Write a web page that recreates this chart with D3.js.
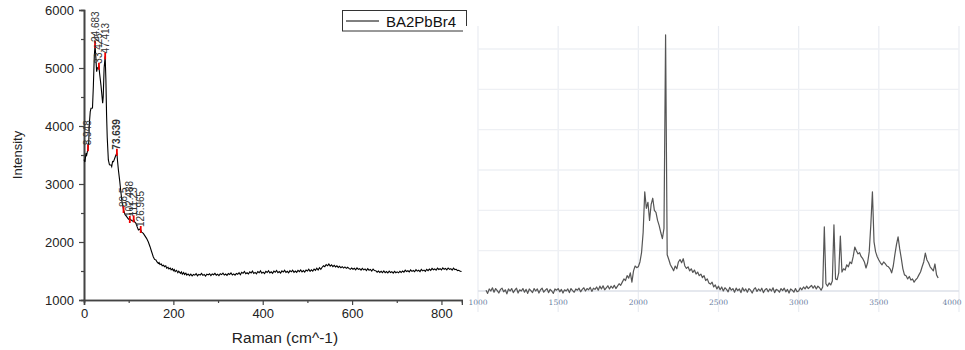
<!DOCTYPE html>
<html><head><meta charset="utf-8">
<script src="https://cdn.jsdelivr.net/npm/d3@7/dist/d3.min.js"></script>
<style>body{margin:0;background:#fff}svg{display:block}</style>
</head><body>
<svg id="c" width="965" height="350"></svg>
<script>
// ---------- Left chart data (Raman) ----------
const ramanHead = [[0,3420],[2,3380],[4.5,3530],[6,3500],[9,3615],[10.5,3700],[12,4046],[14,4250],[15.7,4305],[19,4310],[21,4700],[23,5200],[24.7,5397],[26,5250],[28.3,4937],[30,5000],[33.4,5023],[35,4900],[38,4700],[41.8,4391],[43,4500],[45,5000],[47.4,5200],[49,4800],[50.5,4200],[52,3800],[54.5,3414],[57,3330],[60.5,3327],[62,3300],[64,3390],[66,3385],[70,3470],[73.6,3540],[75,3400],[77,3241],[80,3050],[82,2897],[85,2700],[88.5,2552],[92,2470],[95.5,2437],[99,2400],[102.5,2379],[104,2390],[106.8,2368],[109,2360],[111.2,2390],[113,2350],[116.4,2322],[119,2260],[121.7,2207],[124,2220],[127,2207],[129,2170],[132.8,2149],[136,2110],[140,2063],[144,2000],[147.8,1919],[151,1840],[155,1747],[158,1700],[161,1690],[163,1661],[166.4,1632],[168,1645],[170,1610],[173,1620],[175,1590],[178,1600],[180,1575],[183,1590],[185,1550],[188,1565],[190,1535],[193,1550],[195,1520],[198,1540],[200,1505],[202,1525],[204,1490],[207,1512],[210,1470],[212,1495],[216,1460],[218,1485],[220,1445],[223,1475],[225,1440],[228,1462],[230,1430]];
const ramanTailStart = 233, ramanTailStep = 3;
const ramanTail = [
1448,1420,1445,1415,1440,1428,1455,1418,1442,1430,1458,1425,1440,1412,1446,1432,1452,1420,1448,1436,
1460,1428,1445,1420,1452,1438,1462,1430,1448,1425,1455,1440,1466,1432,1450,1428,1458,1444,1470,1436,
1478,1460,1492,1452,1470,1448,1484,1466,1498,1458,1476,1452,1490,1470,1502,1462,1480,1456,1494,1474,
1505,1466,1486,1460,1498,1478,1510,1470,1490,1464,1502,1482,1512,1474,1494,1468,1506,1486,1515,1478,
1500,1476,1510,1490,1520,1484,1506,1480,1516,1500,1532,1494,1520,1498,1534,1512,1548,1516,1556,1528,
1565,1590,1575,1612,1590,1620,1585,1605,1575,1598,1570,1590,1562,1582,1556,1575,1550,1570,1546,1565,
1545,1528,1552,1530,1548,1520,1554,1528,1540,1514,1546,1520,1535,1508,1540,1514,1528,1500,1534,1508,
1505,1480,1500,1476,1494,1470,1500,1472,1490,1466,1498,1474,1488,1464,1494,1470,1486,1468,1496,1474,
1500,1480,1514,1490,1504,1484,1518,1494,1508,1488,1522,1498,1512,1490,1526,1502,1516,1494,1530,1506,
1534,1510,1546,1522,1536,1514,1550,1526,1540,1518,1554,1530,1544,1520,1552,1528,1540,1516,1548,1524,
1530,1506,1512,1494,1490];
const peakX = [8.948,24.683,33.425,47.413,73.639,88.5,102.488,111.23,126.965];
const peakY = [3615,5397,5023,5200,3540,2552,2379,2390,2207];
const leftXTicks = [0,200,400,600,800];
const leftYTicks = [1000,2000,3000,4000,5000,6000];
const seriesName = "BA2PbBr4";

// ---------- Right chart data (spectrum) ----------
const specStart = 1050, specStep = 10;
const specValues = [
0.02,-0.06,0.05,0.0,0.08,-0.03,0.06,0.01,-0.05,0.04,0.07,-0.02,0.03,-0.07,0.05,0.0,0.06,-0.04,0.02,0.07,-0.05,0.03,0.0,0.06,-0.03,
0.04,-0.06,0.05,0.01,-0.04,0.06,0.0,0.05,-0.05,0.03,0.07,-0.03,0.02,0.06,-0.04,0.04,0.0,-0.06,0.05,0.02,0.06,-0.02,0.04,-0.05,0.03,
0.0,0.05,-0.04,0.06,0.01,-0.03,0.05,0.02,0.07,-0.02,0.04,0.08,0.0,0.06,0.03,0.09,-0.01,0.07,0.04,0.1,0.02,0.12,0.05,0.13,0.03,
0.08,0.13,0.05,0.12,0.07,0.14,0.06,0.12,0.18,0.14,0.22,0.3,0.26,0.38,0.32,0.45,0.22,0.5,0.62,0.58,
0.6,0.72,0.95,1.45,2.46,2.05,2.2,1.75,2.15,2.3,2.0,1.95,1.75,1.62,1.45,1.3,1.55,6.35,0.9,0.78,
0.65,0.58,0.5,0.62,0.55,0.72,0.78,0.7,0.8,0.62,0.56,0.6,0.5,0.55,0.46,0.52,0.42,0.47,0.38,0.42,
0.33,0.38,0.26,0.3,0.2,0.17,0.22,0.1,0.15,0.05,0.12,0.03,0.1,0.0,0.08,0.04,-0.02,0.09,0.02,0.06,
-0.03,0.07,0.01,0.05,-0.04,0.08,0.0,0.05,-0.03,0.06,0.02,-0.05,0.04,0.08,-0.01,0.05,0.0,0.07,-0.04,0.03,
0.06,-0.02,0.05,0.0,0.08,-0.04,0.04,0.02,-0.03,0.06,0.01,0.07,-0.02,0.04,-0.05,0.05,0.02,-0.03,0.06,-0.02,
0.0,0.08,0.03,0.1,0.05,0.12,0.06,0.1,0.14,0.07,0.13,0.05,0.12,0.08,0.02,0.1,1.59,0.18,0.12,0.2,
0.15,0.25,1.64,0.3,0.28,0.45,1.36,0.47,0.55,0.52,0.65,0.6,0.72,0.68,0.85,1.09,1.0,0.92,0.95,0.85,
0.8,0.72,0.57,0.7,0.97,1.64,2.46,1.22,0.97,0.85,0.77,0.7,0.65,0.72,0.68,0.62,0.6,0.55,0.45,0.62,
0.9,1.15,1.34,1.05,0.81,0.55,0.4,0.38,0.3,0.36,0.27,0.3,0.22,0.28,0.32,0.4,0.47,0.6,0.72,0.94,
0.77,0.7,0.6,0.55,0.5,0.67,0.4,0.32];
const rightXTicks = [1000,1500,2000,2500,3000,3500,4000];
const rightYGrid = [1,2,3,4,5,6];

// ---------- Build ----------
const svg = d3.select("#c");
const FONT = "Liberation Sans, Arial, sans-serif";

const raman = ramanHead.concat(ramanTail.map((v,i)=>[ramanTailStart + i*ramanTailStep, v]));
const xL = d3.scaleLinear().domain([0,846]).range([84,462]);
const yL = d3.scaleLinear().domain([1000,6000]).range([300,10]);

const gL = svg.append("g");
const xAxis = d3.axisBottom(xL).tickValues(leftXTicks).tickSize(5).tickPadding(4).tickFormat(d3.format("d"));
const xMinor = d3.axisBottom(xL).tickValues(leftXTicks.map(d=>d+100).filter(d=>d<846)).tickSize(3).tickFormat("");
const yAxis = d3.axisLeft(yL).tickValues(leftYTicks).tickSize(5).tickPadding(5).tickFormat(d3.format("d"));
const yMinor = d3.axisLeft(yL).tickValues(leftYTicks.slice(0,-1).map(d=>d+500)).tickSize(3).tickFormat("");
function styleAxis(g){
  g.select(".domain").attr("stroke","#444").attr("stroke-width",1.6);
  g.selectAll(".tick line").attr("stroke","#444").attr("stroke-width",1.2);
  g.selectAll(".tick text").attr("fill","#222").style("font-family",FONT).style("font-size","13px");
}
gL.append("g").attr("transform","translate(0,300)").call(xMinor).call(styleAxis);
gL.append("g").attr("transform","translate(0,300)").call(xAxis).call(styleAxis);
gL.append("g").attr("transform","translate(84,0)").call(yMinor).call(styleAxis);
gL.append("g").attr("transform","translate(84,0)").call(yAxis).call(styleAxis);

gL.append("text").attr("transform","translate(22,155) rotate(-90)").attr("text-anchor","middle")
  .style("font-family",FONT).style("font-size","13px").attr("fill","#222").text("Intensity");
gL.append("text").attr("x",285).attr("y",343).attr("text-anchor","middle")
  .style("font-family",FONT).style("font-size","15.5px").attr("fill","#222").text("Raman (cm^-1)");

gL.append("path").datum(raman)
  .attr("d", d3.line().x(d=>xL(d[0])).y(d=>yL(d[1])))
  .attr("fill","none").attr("stroke","#000").attr("stroke-width",1.1);

peakX.forEach((px,i)=>{
  const cx = xL(px), cy = yL(peakY[i]);
  gL.append("line").attr("x1",cx).attr("x2",cx).attr("y1",cy-4).attr("y2",cy+3)
    .attr("stroke","#e00").attr("stroke-width",1.8);
  gL.append("text").attr("transform",`translate(${cx+3.5},${cy-3}) rotate(-90)`)
    .style("font-family",FONT).style("font-size","10px").attr("fill","#333")
    .style("font-weight", px===73.639 ? "bold" : "normal")
    .text(String(px));
});

gL.append("rect").attr("x",342.5).attr("y",10.5).attr("width",124).attr("height",20.5)
  .attr("fill","#fff").attr("stroke","#333").attr("stroke-width",1);
gL.append("line").attr("x1",346).attr("x2",379).attr("y1",21).attr("y2",21).attr("stroke","#000").attr("stroke-width",1);
gL.append("text").attr("x",386).attr("y",26.5).style("font-family",FONT).style("font-size","15px")
  .attr("fill","#111").text(seriesName);

// ---------- Right chart ----------
const gR = svg.append("g");
gR.append("rect").attr("x",463).attr("y",26).attr("width",502).attr("height",324).attr("fill","#fff");
const xR = d3.scaleLinear().domain([1000,4000]).range([478,959]);
const yR = d3.scaleLinear().domain([0,6]).range([291,49]);

gR.selectAll("line.vg").data(rightXTicks).join("line").attr("class","vg")
  .attr("x1",d=>xR(d)).attr("x2",d=>xR(d)).attr("y1",26).attr("y2",312)
  .attr("stroke","#e9ecf2").attr("stroke-width",1.2);
gR.selectAll("line.hg").data(rightYGrid).join("line").attr("class","hg")
  .attr("x1",478).attr("x2",959).attr("y1",d=>yR(d)).attr("y2",d=>yR(d))
  .attr("stroke","#eef0f4").attr("stroke-width",1.4);
gR.append("line").attr("x1",478).attr("x2",959).attr("y1",yR(0)).attr("y2",yR(0))
  .attr("stroke","#dde1e8").attr("stroke-width",1.6);

gR.selectAll("text.xt").data(rightXTicks).join("text").attr("class","xt")
  .attr("x",d=>Math.min(xR(d), 952)).attr("y",305).attr("text-anchor","middle")
  .style("font-family","DejaVu Serif, serif").style("font-size","7.5px").attr("fill","#6a7ea0")
  .text(d=>d);

const spec = specValues.map((v,i)=>[specStart + i*specStep, v]);
gR.append("path").datum(spec)
  .attr("d", d3.line().x(d=>xR(d[0])).y(d=>yR(d[1])))
  .attr("fill","none").attr("stroke","#555").attr("stroke-width",1.2).attr("stroke-linejoin","round");
</script>
</body></html>
